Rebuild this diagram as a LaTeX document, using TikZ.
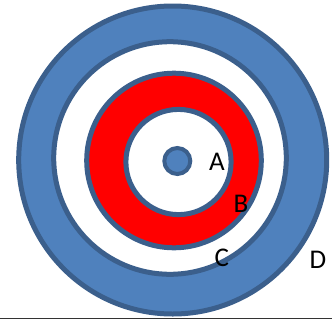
\documentclass[tikz,border=0pt]{standalone}
\usepackage{fontspec}
\setmainfont{Carlito}
\definecolor{ringblue}{HTML}{4F81BD}
\definecolor{ringedge}{HTML}{3B5F8C}
\definecolor{ringred}{HTML}{FF0000}
\begin{document}
\begin{tikzpicture}[x=1pt,y=-1pt,
  ring/.style={draw=ringedge,line width=5pt},
  lbl/.style={font=\fontsize{27}{30}\selectfont,text=black,inner sep=0pt}]
\useasboundingbox (0,0) rectangle (332,322);
\fill[white] (0,0) rectangle (332,322);
\draw[ring,fill=ringblue] (172.7,160) circle[radius=154pt];
\draw[ring,fill=white] (170,158) circle[radius=116.3pt];
\draw[ring,fill=ringred] (174,160.5) circle[radius=87.3pt];
\draw[ring,fill=white] (178.5,162) circle[radius=52.6pt];
\draw[ring,line width=4pt,fill=ringblue] (177.3,161) circle[radius=13pt];
\node[lbl] (A) at (217,161.7) {A};
\node[lbl] (B) at (241,204) {B};
\node[lbl] (C) at (221.7,258) {C};
\node[lbl] (D) at (318,260.3) {D};
\coordinate (L) at (0,318.3);
\coordinate (R) at (332,318.3);
\draw[line width=1.5pt,draw=black!80] (L) -- (R);
\end{tikzpicture}
\end{document}
